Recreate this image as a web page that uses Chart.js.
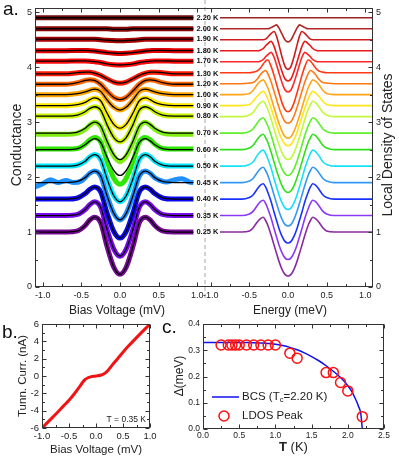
<!DOCTYPE html>
<html><head><meta charset="utf-8">
<script src="https://cdn.jsdelivr.net/npm/chart.js@4.4.1/dist/chart.umd.min.js"></script>
<style>
html,body{margin:0;padding:0;background:#fff;width:399px;height:460px;overflow:hidden;position:relative;font-family:'Liberation Sans',Arial,sans-serif}
canvas{position:absolute}
.pl{position:absolute;font-size:19px;line-height:19px;color:#111}
</style></head><body>
<canvas id="aL" width="240" height="320" style="left:0;top:0"></canvas>
<canvas id="aR" width="209" height="320" style="left:190px;top:0"></canvas>
<canvas id="pb" width="165" height="150" style="left:0;top:310px"></canvas>
<canvas id="pc" width="239" height="150" style="left:160px;top:310px"></canvas>
<div class="pl" style="left:3px;top:-1px">a.</div>
<div class="pl" style="left:2px;top:322px">b.</div>
<div class="pl" style="left:162px;top:317px">c.</div>
<script>
// ---------------- data ----------------
const temperatures = ['2.20 K','2.00 K','1.90 K','1.80 K','1.70 K','1.30 K','1.20 K','1.00 K','0.90 K','0.80 K','0.70 K','0.60 K','0.50 K','0.45 K','0.40 K','0.35 K','0.25 K'];

// panel a (left): bias grid; curves symmetric, half profiles at |V| = 0,0.08,0.17,0.25,0.33,0.39,0.45,0.55,0.70,edge
const biasGrid = [-1.1,-0.7,-0.55,-0.45,-0.39,-0.33,-0.25,-0.17,-0.08,0,0.08,0.17,0.25,0.33,0.39,0.45,0.55,0.7,0.95];
const fitHalf = [
  [4.90,4.90,4.90,4.90,4.90,4.90,4.90,4.90,4.90,4.90],
  [4.69,4.69,4.70,4.70,4.70,4.70,4.70,4.70,4.70,4.70],
  [4.48,4.485,4.49,4.50,4.51,4.51,4.51,4.51,4.51,4.51],
  [4.25,4.255,4.265,4.28,4.295,4.30,4.305,4.305,4.30,4.30],
  [4.04,4.045,4.06,4.085,4.10,4.11,4.115,4.115,4.11,4.11],
  [3.71,3.73,3.79,3.85,3.89,3.91,3.91,3.90,3.88,3.88],
  [3.41,3.45,3.57,3.69,3.76,3.77,3.76,3.72,3.69,3.69],
  [3.22,3.27,3.41,3.56,3.60,3.58,3.55,3.52,3.50,3.50],
  [2.89,2.96,3.17,3.39,3.44,3.41,3.36,3.32,3.30,3.30],
  [2.64,2.72,2.96,3.22,3.28,3.25,3.19,3.13,3.11,3.11],
  [2.32,2.41,2.66,2.93,3.00,2.96,2.89,2.82,2.80,2.80],
  [2.03,2.12,2.37,2.63,2.70,2.66,2.59,2.52,2.50,2.50],
  [1.55,1.66,1.98,2.32,2.41,2.37,2.29,2.22,2.20,2.20],
  [1.22,1.34,1.67,2.02,2.11,2.07,1.99,1.92,1.90,1.90],
  [0.89,1.01,1.36,1.73,1.82,1.78,1.70,1.62,1.60,1.60],
  [0.56,0.69,1.06,1.45,1.55,1.50,1.41,1.32,1.30,1.30],
  [0.23,0.36,0.75,1.17,1.27,1.22,1.12,1.02,1.00,1.00]
];
// measured conductance where it departs from the fit (others follow the fit)
const measured070Half = [2.28,2.38,2.64,2.92,3.00,2.95,2.87,2.80,2.78,2.78];
const measured060Half = [1.87,1.98,2.30,2.64,2.72,2.68,2.60,2.52,2.51,2.51];
const measured045Bias = [-1.1,-1.0,-0.9,-0.8,-0.7,-0.6,-0.5,-0.45,-0.39,-0.33,-0.25,-0.17,-0.08,0,0.08,0.17,0.25,0.33,0.39,0.45,0.5,0.6,0.7,0.8,0.9,0.95];
const measured045 = [1.82,1.88,1.95,1.90,1.94,1.90,1.93,1.99,2.07,2.11,2.02,1.67,1.34,1.22,1.34,1.67,2.02,2.11,2.07,1.99,1.95,1.91,1.95,1.97,1.91,1.90];

// panel a (right): energy grid; half profiles at |E| = 0,.04,.08,.12,.15,.18,.22,.26,.29,.32,.36,.40,.45,.50,.60,edge
const energyGrid = [-0.88,-0.6,-0.5,-0.45,-0.4,-0.36,-0.32,-0.29,-0.26,-0.22,-0.18,-0.15,-0.12,-0.08,-0.04,0,0.04,0.08,0.12,0.15,0.18,0.22,0.26,0.29,0.32,0.36,0.4,0.45,0.5,0.6,1.1];
const ldosHalf = [
  [4.90,4.90,4.90,4.90,4.90,4.90,4.90,4.90,4.90,4.90,4.90,4.90,4.90,4.90,4.90,4.90],
  [4.46,4.50,4.61,4.72,4.77,4.75,4.72,4.70,4.70,4.70,4.70,4.70,4.70,4.70,4.70,4.70],
  [3.96,4.02,4.20,4.42,4.57,4.65,4.61,4.55,4.51,4.50,4.50,4.50,4.50,4.50,4.50,4.50],
  [3.75,3.79,3.93,4.11,4.25,4.38,4.47,4.43,4.39,4.34,4.31,4.30,4.30,4.30,4.30,4.30],
  [3.55,3.59,3.73,3.91,4.05,4.18,4.27,4.23,4.19,4.14,4.11,4.10,4.10,4.10,4.10,4.10],
  [3.19,3.23,3.36,3.55,3.70,3.85,4.02,4.13,4.11,4.06,3.98,3.93,3.91,3.90,3.90,3.90],
  [2.98,3.01,3.12,3.28,3.42,3.56,3.74,3.88,3.94,3.92,3.86,3.78,3.72,3.71,3.70,3.70],
  [2.71,2.74,2.84,2.99,3.12,3.26,3.45,3.62,3.71,3.77,3.74,3.68,3.58,3.52,3.50,3.50],
  [2.57,2.60,2.69,2.83,2.96,3.09,3.26,3.42,3.51,3.56,3.53,3.47,3.38,3.32,3.30,3.30],
  [2.32,2.35,2.45,2.60,2.73,2.87,3.06,3.23,3.32,3.38,3.35,3.28,3.18,3.13,3.10,3.10],
  [2.03,2.06,2.16,2.30,2.44,2.58,2.77,2.93,3.02,3.08,3.05,2.98,2.88,2.83,2.80,2.80],
  [1.72,1.75,1.85,2.00,2.13,2.27,2.46,2.63,2.72,2.78,2.75,2.68,2.58,2.53,2.50,2.50],
  [1.41,1.44,1.54,1.69,1.83,1.97,2.17,2.33,2.43,2.49,2.46,2.39,2.28,2.23,2.20,2.20],
  [1.11,1.14,1.24,1.39,1.53,1.67,1.86,2.03,2.12,2.18,2.15,2.08,1.98,1.93,1.90,1.90],
  [0.80,0.83,0.93,1.08,1.22,1.36,1.56,1.72,1.82,1.88,1.85,1.78,1.68,1.63,1.60,1.60],
  [0.50,0.53,0.63,0.78,0.92,1.06,1.26,1.42,1.52,1.58,1.55,1.48,1.38,1.33,1.30,1.30],
  [0.20,0.23,0.33,0.48,0.62,0.76,0.95,1.12,1.21,1.27,1.24,1.18,1.08,1.02,1.00,1.00]
];

// panel b: I-V at 0.35 K
const ivBias = [-1.0,-0.8,-0.6,-0.5,-0.4,-0.3,-0.25,-0.2,-0.15,-0.1,0,0.1,0.15,0.2,0.25,0.3,0.4,0.5,0.6,0.8,1.0];
const ivCurrent = [-6.0,-4.75,-3.45,-2.8,-2.05,-1.2,-0.75,-0.4,-0.2,-0.1,0.0,0.12,0.25,0.5,0.85,1.25,2.0,2.75,3.45,4.75,6.0];

// panel c: gap vs temperature
const bcsT = [0,0.2,0.4,0.6,0.8,1.0,1.1,1.2,1.3,1.4,1.5,1.6,1.7,1.8,1.9,2.0,2.05,2.1,2.15,2.18,2.2];
const bcsGap = [0.330,0.330,0.330,0.330,0.328,0.323,0.318,0.311,0.302,0.290,0.276,0.260,0.241,0.220,0.196,0.165,0.145,0.118,0.085,0.058,0.0];
const peakT = [0.25,0.35,0.40,0.45,0.50,0.60,0.70,0.80,0.90,1.00,1.20,1.30,1.70,1.80,1.90,2.00,2.20];
const peakGap = [0.32,0.32,0.32,0.32,0.32,0.32,0.32,0.32,0.32,0.32,0.289,0.27,0.215,0.215,0.177,0.145,0.047];

// ---------------- styles ----------------
const bandColors = ['#6e0c0c','#8c0606','#a80404','#e00000','#ff0a0a','#ff1a08','#ff6600','#ffa500','#ffea00','#c8f500','#80ee10','#2ee600','#00e8ff','#2090ff','#0a0aee','#7a0aee','#760a96'];
const lineColors = ['#9a2424','#b22626','#cf1c1c','#e81a1a','#ff2626','#ff3a16','#ff7a16','#ffa41a','#ffe61a','#c4f83a','#5ef02a','#30e01a','#18e0fa','#3399f5','#1a33ff','#8a38f5','#8a2aa0'];

Chart.defaults.font.family = "'Liberation Sans', Arial, sans-serif";
Chart.defaults.color = '#222';

const mirror = (h) => h.slice().reverse().concat(h.slice(1));
const pts = (xs, ys) => xs.map((x, i) => ({x, y: ys[i]}));
const fmt = (step, digits) => (v) => {
  if (Math.abs(v) < 1e-9) v = 0;
  return Math.abs(v / step - Math.round(v / step)) < 1e-6 ? v.toFixed(digits) : '';
};
function axis(o) {
  return {
    type: 'linear', position: o.pos, min: o.min, max: o.max,
    grid: {display: false, drawTicks: false}, border: {display: false},
    ticks: {stepSize: o.step, includeBounds: false, autoSkip: false, maxRotation: 0, minRotation: 0,
      padding: o.pad == null ? 3 : o.pad, font: {size: o.fs}, color: '#222', callback: fmt(o.major, o.digits)},
    afterFit: (s) => { if (o.w != null) s.width = o.w; if (o.h != null) s.height = o.h; }
  };
}
const frame = {
  id: 'frame',
  afterDatasetsDraw(chart, _a, o) {
    const {ctx, chartArea: A} = chart;
    const xs = chart.scales.x, ys = chart.scales.y, S = o.sides;
    const L = Math.round(A.left) + 0.5, R = Math.round(A.right) - 0.5, T = Math.round(A.top) + 0.5, B = Math.round(A.bottom) - 0.5;
    const isMajor = (v, m) => Math.abs(v / m - Math.round(v / m)) < 1e-6;
    ctx.save();
    if (o.dashRight) {
      ctx.strokeStyle = '#c4c4c4'; ctx.lineWidth = 1.5; ctx.setLineDash([4, 3]);
      ctx.beginPath(); ctx.moveTo(A.right, 0); ctx.lineTo(A.right, A.bottom + 12); ctx.stroke(); ctx.setLineDash([]);
    }
    ctx.strokeStyle = o.color || '#333'; ctx.lineWidth = 1;
    ctx.beginPath();
    if (S.includes('left')) { ctx.moveTo(L, T - 0.5); ctx.lineTo(L, B + 0.5); }
    if (S.includes('right')) { ctx.moveTo(R, T - 0.5); ctx.lineTo(R, B + 0.5); }
    if (S.includes('top')) { ctx.moveTo(L - 0.5, T); ctx.lineTo(R + 0.5, T); }
    if (S.includes('bottom')) { ctx.moveTo(L - 0.5, B); ctx.lineTo(R + 0.5, B); }
    xs.ticks.forEach((t) => {
      const p = Math.round(xs.getPixelForValue(t.value)) + 0.5, len = isMajor(t.value, o.xMajor) ? 4 : 2.5;
      if (S.includes('bottom')) { ctx.moveTo(p, B); ctx.lineTo(p, B - len); }
      if (S.includes('top')) { ctx.moveTo(p, T); ctx.lineTo(p, T + len); }
    });
    ys.ticks.forEach((t) => {
      const p = Math.round(ys.getPixelForValue(t.value)) + 0.5, len = isMajor(t.value, o.yMajor) ? 4 : 2.5;
      if (S.includes('left')) { ctx.moveTo(L, p); ctx.lineTo(L + len, p); }
      if (S.includes('right')) { ctx.moveTo(R, p); ctx.lineTo(R - len, p); }
    });
    ctx.stroke();
    ctx.restore();
  }
};
const texts = {
  id: 'texts',
  afterDraw(chart, _a, o) {
    const ctx = chart.ctx;
    (o.items || []).forEach((it) => {
      ctx.save();
      ctx.font = it.font; ctx.fillStyle = '#222';
      ctx.textAlign = it.align || 'center'; ctx.textBaseline = it.base || 'middle';
      ctx.translate(it.x, it.y); if (it.rot) ctx.rotate(it.rot);
      ctx.fillText(it.text, 0, 0);
      ctx.restore();
    });
  }
};
const tempLabels = {
  id: 'tempLabels',
  afterDatasetsDraw(chart) {
    const {ctx} = chart, xs = chart.scales.x, ys = chart.scales.y;
    ctx.save();
    ctx.font = "bold 7.5px 'Liberation Sans', Arial, sans-serif";
    ctx.fillStyle = '#111'; ctx.textAlign = 'left'; ctx.textBaseline = 'middle';
    const x0 = xs.getPixelForValue(biasGrid[biasGrid.length - 1]) + 3;
    temperatures.forEach((t, i) => {
      const h = fitHalf[i];
      ctx.fillText(t, x0, ys.getPixelForValue(h[h.length - 1]));
    });
    ctx.restore();
  }
};
const common = {responsive: false, animation: false, devicePixelRatio: 1,
  elements: {point: {radius: 0}, line: {cubicInterpolationMode: 'monotone'}}};

// ---------- panel a left ----------
const bandSets = temperatures.map((t, i) => {
  let d;
  if (t === '0.45 K') d = pts(measured045Bias, measured045);
  else if (t === '0.60 K') d = pts(biasGrid, mirror(measured060Half));
  else if (t === '0.70 K') d = pts(biasGrid, mirror(measured070Half));
  else d = pts(biasGrid, mirror(fitHalf[i]));
  return {data: d, borderColor: bandColors[i], borderWidth: 5, order: 1};
});
const fitSets = temperatures.map((t, i) => ({data: pts(biasGrid, mirror(fitHalf[i])), borderColor: '#000', borderWidth: 1.3, order: 0}));
new Chart(document.getElementById('aL'), {
  type: 'line',
  data: {datasets: bandSets.concat(fitSets)},
  options: Object.assign({}, common, {
    layout: {padding: {left: 0, right: 35, top: 3, bottom: 0}},
    plugins: {legend: {display: false}, tooltip: {enabled: false},
      frame: {sides: ['left', 'top', 'bottom'], xMajor: 0.5, yMajor: 1, dashRight: true},
      texts: {items: [
        {text: 'Conductance', x: 17, y: 145, rot: -Math.PI / 2, font: "14px 'Liberation Sans', Arial"},
        {text: 'Bias Voltage (mV)', x: 117, y: 311, font: "12px 'Liberation Sans', Arial"}
      ]}},
    scales: {
      x: axis({pos: 'bottom', min: -1.1, max: 1.1, step: 0.25, major: 0.5, digits: 1, fs: 9, h: 33}),
      y: axis({pos: 'left', min: 0, max: 5.07, step: 0.5, major: 1, digits: 0, fs: 9, w: 35})
    }
  }),
  plugins: [frame, tempLabels, texts]
});

// ---------- panel a right ----------
new Chart(document.getElementById('aR'), {
  type: 'line',
  data: {datasets: temperatures.map((t, i) => ({data: pts(energyGrid, mirror(ldosHalf[i])), borderColor: lineColors[i], borderWidth: 1.6}))},
  options: Object.assign({}, common, {
    layout: {padding: {left: 13, right: 0, top: 3, bottom: 0}},
    plugins: {legend: {display: false}, tooltip: {enabled: false},
      frame: {sides: ['right', 'top', 'bottom'], xMajor: 0.5, yMajor: 1},
      texts: {items: [
        {text: 'Local Density of States', x: 198, y: 145, rot: -Math.PI / 2, font: "14px 'Liberation Sans', Arial"},
        {text: 'Energy (meV)', x: 100, y: 311, font: "12px 'Liberation Sans', Arial"}
      ]}},
    scales: {
      x: axis({pos: 'bottom', min: -1.1, max: 1.1, step: 0.25, major: 0.5, digits: 1, fs: 9, h: 33}),
      y: axis({pos: 'right', min: 0, max: 5.07, step: 0.5, major: 1, digits: 0, fs: 9, w: 26})
    }
  }),
  plugins: [frame, texts]
});

// ---------- panel b ----------
new Chart(document.getElementById('pb'), {
  type: 'line',
  data: {datasets: [{data: pts(ivBias, ivCurrent), borderColor: '#f01414', borderWidth: 3}]},
  options: Object.assign({}, common, {
    layout: {padding: {left: 0, right: 15, top: 14, bottom: 0}},
    plugins: {legend: {display: false}, tooltip: {enabled: false},
      frame: {sides: ['left', 'right', 'top', 'bottom'], xMajor: 0.5, yMajor: 2},
      texts: {items: [
        {text: 'Tunn. Curr. (nA)', x: 23, y: 66, rot: -Math.PI / 2, font: "11.5px 'Liberation Sans', Arial"},
        {text: 'Bias Voltage (mV)', x: 96, y: 140, font: "11.5px 'Liberation Sans', Arial"},
        {text: 'T = 0.35 K', x: 146, y: 110, align: 'right', font: "8.5px 'Liberation Sans', Arial"}
      ]}},
    scales: {
      x: axis({pos: 'bottom', min: -1, max: 1, step: 0.25, major: 0.5, digits: 1, fs: 9.5, h: 32, pad: 3}),
      y: axis({pos: 'left', min: -6, max: 6, step: 1, major: 2, digits: 0, fs: 9.5, w: 42})
    }
  }),
  plugins: [frame, texts]
});

// ---------- panel c ----------
const gapLegend = {
  id: 'gapLegend',
  afterDraw(chart) {
    const {ctx, chartArea: A} = chart;
    ctx.save();
    const f = "11.5px 'Liberation Sans', Arial";
    const y1 = A.top + 73, y2 = A.top + 92, tx = A.left + 39;
    ctx.strokeStyle = '#1010ee'; ctx.lineWidth = 1.5;
    ctx.beginPath(); ctx.moveTo(A.left + 9, y1); ctx.lineTo(A.left + 36, y1); ctx.stroke();
    ctx.strokeStyle = '#ff1010'; ctx.lineWidth = 1.5;
    ctx.beginPath(); ctx.arc(A.left + 21, y2, 5, 0, Math.PI * 2); ctx.stroke();
    ctx.fillStyle = '#222'; ctx.textBaseline = 'middle'; ctx.textAlign = 'left';
    ctx.font = f;
    let x = tx;
    ctx.fillText('BCS (T', x, y1); x += ctx.measureText('BCS (T').width;
    ctx.font = "7.5px 'Liberation Sans', Arial"; ctx.fillText('c', x, y1 + 3); x += ctx.measureText('c').width;
    ctx.font = f; ctx.fillText('=2.20 K)', x, y1);
    ctx.fillText('LDOS Peak', tx, y2);
    // x title with bold T
    const cx = (A.left + A.right) / 2, ty = A.bottom + 18;
    ctx.font = "bold 13px 'Liberation Sans', Arial"; const w1 = ctx.measureText('T').width;
    ctx.font = "13px 'Liberation Sans', Arial"; const w2 = ctx.measureText(' (K)').width;
    ctx.font = "bold 13px 'Liberation Sans', Arial"; ctx.fillText('T', cx - (w1 + w2) / 2, ty);
    ctx.font = "13px 'Liberation Sans', Arial"; ctx.fillText(' (K)', cx - (w1 + w2) / 2 + w1, ty);
    ctx.restore();
  }
};
new Chart(document.getElementById('pc'), {
  type: 'line',
  data: {datasets: [
    {data: pts(bcsT, bcsGap), borderColor: '#1010ee', borderWidth: 1.5, order: 1},
    {data: pts(peakT, peakGap), showLine: false, pointRadius: 5, pointBorderColor: '#ff1010', pointBackgroundColor: 'rgba(0,0,0,0)', pointBorderWidth: 1.5, order: 0}
  ]},
  options: Object.assign({}, common, {
    layout: {padding: {left: 0, right: 15, top: 14, bottom: 0}},
    plugins: {legend: {display: false}, tooltip: {enabled: false},
      frame: {sides: ['left', 'right', 'top', 'bottom'], xMajor: 0.5, yMajor: 0.1},
      texts: {items: [
        {text: 'Δ(meV)', x: 20, y: 66, rot: -Math.PI / 2, font: "12px 'Liberation Sans', Arial"}
      ]}},
    scales: {
      x: axis({pos: 'bottom', min: 0, max: 2.5, step: 0.25, major: 0.5, digits: 1, fs: 8.5, h: 31, pad: 2}),
      y: axis({pos: 'left', min: 0, max: 0.4, step: 0.05, major: 0.1, digits: 1, fs: 8.5, w: 43})
    }
  }),
  plugins: [frame, texts, gapLegend]
});
</script>
</body></html>
